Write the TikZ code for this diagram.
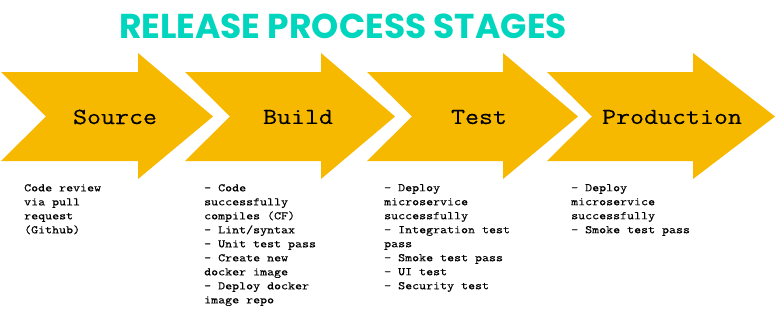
\documentclass[tikz,border=0pt]{standalone}
\usepackage{fontspec}
\setmonofont{Latin Modern Mono}[FakeStretch=1.18, FakeBold=0.35]
\newfontfamily\titlefont{Poppins}

\definecolor{stageyellow}{RGB}{247,185,0}
\definecolor{titleteal}{RGB}{0,214,190}

\tikzset{
  stagelabel/.style={font=\fontsize{23}{28}\selectfont\ttfamily},
  stagenotes/.style={anchor=north west, inner sep=0pt, align=left,
    font=\fontsize{11.5}{14}\selectfont\ttfamily}
}

\begin{document}
\begin{tikzpicture}[x=1pt,y=-1pt]

  % white page with a fixed size
  \useasboundingbox [fill=white] (0,0) rectangle (776,313);

  % heading
  \node [text=titleteal, font=\titlefont\bfseries\fontsize{34.5}{34.5}\selectfont] (title) at (343,26) {RELEASE PROCESS STAGES};

  % chevron arrows: left x / tip x / head length
  \foreach \a/\b/\h in {1/213/75, 185/395/74, 367/578/75, 547/775/82}{
    \fill [stageyellow] (\a,72) -- (\b-\h,72) -- (\b-\h,53) -- (\b,116.5)
      -- (\b-\h,179) -- (\b-\h,161) -- (\a,161) -- (\a+45,116.5) -- cycle;
  }

  % stage names
  \node [stagelabel] (src) at (115,117) {Source};
  \node [stagelabel] (bld) at (298,117) {Build};
  \node [stagelabel] (tst) at (479,117) {Test};
  \node [stagelabel] (prd) at (672,117) {Production};

  % what each stage checks
  \node [stagenotes] (srcnotes) at (24,184) {Code review\\via pull\\request\\(Github)};
  \node [stagenotes] (bldnotes) at (204,184) {- Code\\successfully\\compiles (CF)\\- Lint/syntax\\- Unit test pass\\- Create new\\docker image\\- Deploy docker\\image repo};
  \node [stagenotes] (tstnotes) at (384,184) {- Deploy\\microservice\\successfully\\- Integration test\\pass\\- Smoke test pass\\- UI test\\- Security test};
  \node [stagenotes] (prdnotes) at (571,184) {- Deploy\\microservice\\successfully\\- Smoke test pass};

\end{tikzpicture}
\end{document}
